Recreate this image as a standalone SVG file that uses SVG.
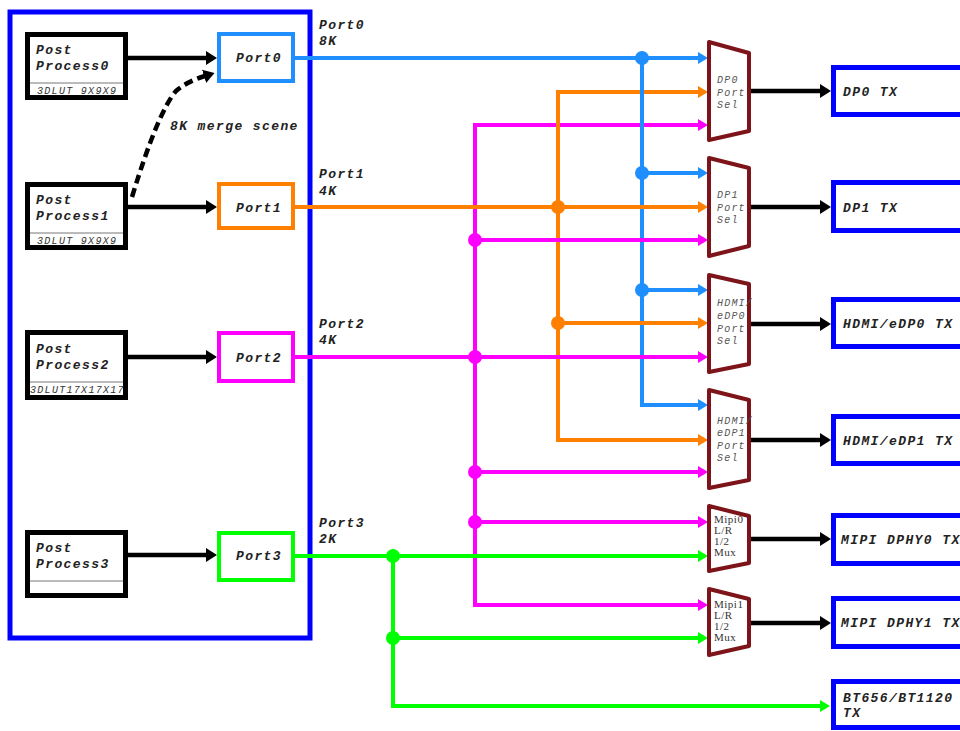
<svg xmlns="http://www.w3.org/2000/svg" width="960" height="731" viewBox="0 0 960 731">
<style>
.t{font-family:"Liberation Mono","Courier New",monospace;font-weight:bold;font-style:italic;font-size:13px;letter-spacing:1.4px;fill:#222}
.s{font-family:"Liberation Mono","Courier New",monospace;font-style:italic;font-size:10px;letter-spacing:1.3px;fill:#333}
.m{font-family:"Liberation Mono","Courier New",monospace;font-style:italic;font-size:10px;letter-spacing:1.2px;fill:#555}
.x{font-family:"Liberation Serif","Times New Roman",serif;font-size:11px;letter-spacing:0.5px;fill:#333}
.pp{fill:#fff;stroke:#000;stroke-width:5}
.dv{stroke:#777;stroke-width:1}
.port{fill:#fff;stroke-width:4}
.mux{fill:#fff;stroke:#7d1419;stroke-width:4;stroke-linejoin:round}
.tx{fill:#fff;stroke:#0000ff;stroke-width:5}
.c{fill:none;stroke-width:4}
.k{fill:none;stroke:#000;stroke-width:4.5}
</style>
<defs>
<marker id="ab" markerUnits="userSpaceOnUse" markerWidth="10" markerHeight="12" refX="1" refY="6" orient="auto"><path d="M0,0 L10,6 L0,12 z" fill="#1f8fff"/></marker>
<marker id="ao" markerUnits="userSpaceOnUse" markerWidth="10" markerHeight="12" refX="1" refY="6" orient="auto"><path d="M0,0 L10,6 L0,12 z" fill="#ff8000"/></marker>
<marker id="am" markerUnits="userSpaceOnUse" markerWidth="10" markerHeight="12" refX="1" refY="6" orient="auto"><path d="M0,0 L10,6 L0,12 z" fill="#ff00ff"/></marker>
<marker id="ag" markerUnits="userSpaceOnUse" markerWidth="10" markerHeight="12" refX="1" refY="6" orient="auto"><path d="M0,0 L10,6 L0,12 z" fill="#00ff00"/></marker>
<marker id="ak" markerUnits="userSpaceOnUse" markerWidth="11" markerHeight="14" refX="1" refY="7" orient="auto"><path d="M0,0 L11,7 L0,14 z" fill="#000"/></marker>
</defs>
<rect width="960" height="731" fill="#fff"/>

<g id="soc">
<rect x="10" y="12" width="300" height="626" fill="none" stroke="#0000ff" stroke-width="5"/>
</g>

<g id="connectors">
<path class="k" d="M128,58 H207" marker-end="url(#ak)"/>
<path class="k" d="M128,207 H207" marker-end="url(#ak)"/>
<path class="k" d="M128,357 H207" marker-end="url(#ak)"/>
<path class="k" d="M128,555 H207" marker-end="url(#ak)"/>
<path class="k" d="M132,197 Q158,112 176,91 Q186,82 205,76" stroke-dasharray="9,5" marker-end="url(#ak)"/>
<path class="k" d="M751,91 H821" marker-end="url(#ak)"/>
<path class="k" d="M751,207 H821" marker-end="url(#ak)"/>
<path class="k" d="M751,324 H821" marker-end="url(#ak)"/>
<path class="k" d="M751,440 H821" marker-end="url(#ak)"/>
<path class="k" d="M751,539 H821" marker-end="url(#ak)"/>
<path class="k" d="M751,623 H821" marker-end="url(#ak)"/>
<path class="c" stroke="#ff00ff" d="M475,240 V125 H699" marker-end="url(#am)"/>
<path class="c" stroke="#ff00ff" d="M475,240 V605 H699" marker-end="url(#am)"/>
<path class="c" stroke="#ff8000" d="M558,207 V92 H699" marker-end="url(#ao)"/>
<path class="c" stroke="#ff8000" d="M558,207 V440 H699" marker-end="url(#ao)"/>
<path class="c" stroke="#1f8fff" d="M642,58 V405 H699" marker-end="url(#ab)"/>
<path class="c" stroke="#00ff00" d="M393,556 V706 H821" marker-end="url(#ag)"/>
<path class="c" stroke="#1f8fff" d="M293,58 H699" marker-end="url(#ab)"/>
<path class="c" stroke="#1f8fff" d="M642,173 H699" marker-end="url(#ab)"/>
<path class="c" stroke="#1f8fff" d="M642,290 H699" marker-end="url(#ab)"/>
<path class="c" stroke="#ff8000" d="M293,207 H699" marker-end="url(#ao)"/>
<path class="c" stroke="#ff8000" d="M558,323 H699" marker-end="url(#ao)"/>
<path class="c" stroke="#ff00ff" d="M475,240 H699" marker-end="url(#am)"/>
<path class="c" stroke="#ff00ff" d="M293,357 H699" marker-end="url(#am)"/>
<path class="c" stroke="#ff00ff" d="M475,472 H699" marker-end="url(#am)"/>
<path class="c" stroke="#ff00ff" d="M475,522 H699" marker-end="url(#am)"/>
<path class="c" stroke="#00ff00" d="M293,556 H699" marker-end="url(#ag)"/>
<path class="c" stroke="#00ff00" d="M393,638 H699" marker-end="url(#ag)"/>
<g fill="#1f8fff"><circle cx="642" cy="58" r="7"/><circle cx="642" cy="173" r="7"/><circle cx="642" cy="290" r="7"/></g>
<g fill="#ff8000"><circle cx="558" cy="207" r="7"/><circle cx="558" cy="323" r="7"/></g>
<g fill="#ff00ff"><circle cx="475" cy="240" r="7"/><circle cx="475" cy="357" r="7"/><circle cx="475" cy="472" r="7"/><circle cx="475" cy="522" r="7"/></g>
<g fill="#00ff00"><circle cx="393" cy="556" r="7"/><circle cx="393" cy="638" r="7"/></g>
<text class="t" x="319" y="29">Port0</text><text class="t" x="319" y="45">8K</text>
<text class="t" x="319" y="178">Port1</text><text class="t" x="319" y="195">4K</text>
<text class="t" x="319" y="328">Port2</text><text class="t" x="319" y="344">4K</text>
<text class="t" x="319" y="527">Port3</text><text class="t" x="319" y="543">2K</text>
<text class="t" x="170" y="130">8K merge scene</text>
</g>

<g id="pp0"><rect class="pp" x="27.5" y="34.5" width="98" height="63"/><line class="dv" x1="30" y1="83" x2="123" y2="83"/><text class="t" x="36" y="54">Post</text><text class="t" x="36" y="70">Process0</text><text class="s" x="37" y="94">3DLUT 9X9X9</text></g>
<g id="pp1"><rect class="pp" x="27.5" y="184.5" width="98" height="63"/><line class="dv" x1="30" y1="233" x2="123" y2="233"/><text class="t" x="36" y="204">Post</text><text class="t" x="36" y="220">Process1</text><text class="s" x="37" y="244">3DLUT 9X9X9</text></g>
<g id="pp2"><rect class="pp" x="27.5" y="332.5" width="98" height="65"/><line class="dv" x1="30" y1="382" x2="123" y2="382"/><text class="t" x="36" y="353">Post</text><text class="t" x="36" y="369">Process2</text><text class="s" x="30" y="393" letter-spacing="0.9">3DLUT17X17X17</text></g>
<g id="pp3"><rect class="pp" x="27.5" y="532.5" width="98" height="63"/><line class="dv" x1="30" y1="581" x2="123" y2="581"/><text class="t" x="36" y="552">Post</text><text class="t" x="36" y="568">Process3</text></g>

<g id="port0"><rect class="port" stroke="#1f8fff" x="219" y="34" width="74" height="47"/><text class="t" x="236" y="62">Port0</text></g>
<g id="port1"><rect class="port" stroke="#ff8000" x="219" y="184" width="74" height="44"/><text class="t" x="236" y="212">Port1</text></g>
<g id="port2"><rect class="port" stroke="#ff00ff" x="219" y="333" width="74" height="48"/><text class="t" x="236" y="362">Port2</text></g>
<g id="port3"><rect class="port" stroke="#00ff00" x="219" y="533" width="74" height="47"/><text class="t" x="236" y="560">Port3</text></g>

<g id="mux-dp0"><polygon class="mux" points="709,42 749,53 749,131 709,140"/><text class="m" x="717" y="83">DP0</text><text class="m" x="717" y="96">Port</text><text class="m" x="717" y="108">Sel</text></g>
<g id="mux-dp1"><polygon class="mux" points="709,158 749,168 749,246 709,256"/><text class="m" x="717" y="198">DP1</text><text class="m" x="717" y="211">Port</text><text class="m" x="717" y="223">Sel</text></g>
<g id="mux-edp0"><polygon class="mux" points="709,275 749,284 749,364 709,372"/><text class="m" x="717" y="306">HDMI/</text><text class="m" x="717" y="319">eDP0</text><text class="m" x="717" y="332">Port</text><text class="m" x="717" y="344">Sel</text></g>
<g id="mux-edp1"><polygon class="mux" points="709,390 749,400 749,480 709,488"/><text class="m" x="717" y="424">HDMI/</text><text class="m" x="717" y="436">eDP1</text><text class="m" x="717" y="449">Port</text><text class="m" x="717" y="461">Sel</text></g>
<g id="mux-mipi0"><polygon class="mux" points="709,506 749,516 749,563 709,571"/><text class="x" x="714" y="523">Mipi0</text><text class="x" x="714" y="534">L/R</text><text class="x" x="714" y="545">1/2</text><text class="x" x="714" y="556">Mux</text></g>
<g id="mux-mipi1"><polygon class="mux" points="709,589 749,599 749,646 709,655"/><text class="x" x="714" y="608">Mipi1</text><text class="x" x="714" y="619">L/R</text><text class="x" x="714" y="630">1/2</text><text class="x" x="714" y="641">Mux</text></g>

<g id="dp0tx"><rect class="tx" x="833.5" y="67.5" width="160" height="47"/><text class="t" x="843" y="96">DP0 TX</text></g>
<g id="dp1tx"><rect class="tx" x="833.5" y="182.5" width="160" height="48"/><text class="t" x="843" y="212">DP1 TX</text></g>
<g id="edp0tx"><rect class="tx" x="833.5" y="299.5" width="160" height="47"/><text class="t" x="843" y="328">HDMI/eDP0 TX</text></g>
<g id="edp1tx"><rect class="tx" x="833.5" y="416.5" width="160" height="47"/><text class="t" x="843" y="445">HDMI/eDP1 TX</text></g>
<g id="mipi0tx"><rect class="tx" x="833.5" y="515.5" width="160" height="48"/><text class="t" x="841" y="544" letter-spacing="0.8">MIPI DPHY0 TX</text></g>
<g id="mipi1tx"><rect class="tx" x="833.5" y="598.5" width="160" height="48"/><text class="t" x="841" y="627" letter-spacing="0.8">MIPI DPHY1 TX</text></g>
<g id="bttx"><rect class="tx" x="833.5" y="681.5" width="160" height="46"/><text class="t" x="843" y="702">BT656/BT1120</text><text class="t" x="843" y="717">TX</text></g>
</svg>
